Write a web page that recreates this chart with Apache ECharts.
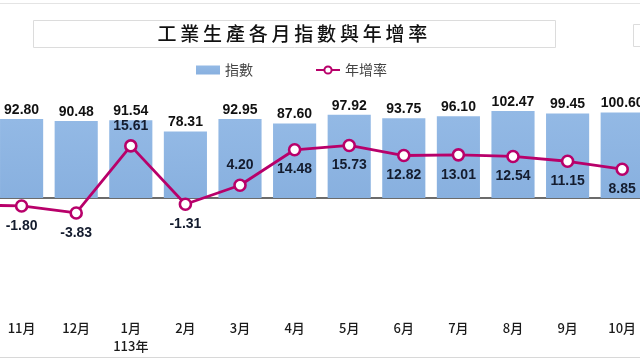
<!DOCTYPE html>
<html><head><meta charset="utf-8">
<script src="https://cdn.jsdelivr.net/npm/echarts@6/dist/echarts.min.js"></script>
<style>html,body{margin:0;padding:0;background:#fff}#c{width:640px;height:360px}</style>
</head><body><div id="c"></div>
<script>
var categories = ['10月','11月','12月','1月\n113年','2月','3月','4月','5月','6月','7月','8月','9月','10月'];
var indexValues = [null, 92.80, 90.48, 91.54, 78.31, 92.95, 87.60, 97.92, 93.75, 96.10, 102.47, 99.45, 100.60];
var growthValues = [-1.5, -1.80, -3.83, 15.61, -1.31, 4.20, 14.48, 15.73, 12.82, 13.01, 12.54, 11.15, 8.85];
var titleText = '工業生產各月指數與年增率';
var seriesNames = ['指數', '年增率'];

var growthLabelPos = ['bottom','bottom','bottom','top','bottom','top','bottom','bottom','bottom','bottom','bottom','bottom','bottom'];

var chart = echarts.init(document.getElementById('c'), null, {renderer: 'canvas'});
var graphics = [
  {type:'line', shape:{x1:0,y1:3.5,x2:640,y2:3.5}, style:{stroke:'#e4e4e4', lineWidth:1}},
  {type:'line', shape:{x1:0,y1:357.5,x2:640,y2:357.5}, style:{stroke:'#d8d8d8', lineWidth:1}},
  {type:'rect', shape:{x:33.5,y:20.5,width:522,height:27}, style:{fill:'#fff', stroke:'#dcdcdc', lineWidth:1}},
  {type:'rect', shape:{x:633.5,y:24.5,width:20,height:22}, style:{fill:'#fff', stroke:'#dcdcdc', lineWidth:1}}
];
var chars = titleText.split('');
for (var i = 0; i < chars.length; i++) {
  graphics.push({type:'text', x: 157 + i * 22.8 + 10, y: 34,
    style:{text: chars[i], fill:'#111', font:'500 19px "Noto Sans CJK TC", sans-serif', align:'center', verticalAlign:'middle'}});
}

chart.setOption({
  animation: false,
  backgroundColor: '#fff',
  graphic: graphics,
  legend: {
    left: 191, top: 58, itemGap: 62, itemWidth: 24, itemHeight: 9,
    textStyle: {fontSize: 14, color: '#444', fontFamily: '"Noto Sans CJK TC", sans-serif'},
    data: [
      {name: seriesNames[0], icon: 'rect'},
      {name: seriesNames[1]}
    ]
  },
  grid: {left: -60.3, top: 79, width: 709.8, height: 238, containLabel: false, outerBoundsMode: 'none'},
  xAxis: [
    {type: 'category', data: categories, axisLine: {show: false}, axisTick: {show: false},
     axisLabel: {fontSize: 13, color: '#1a1a1a', fontWeight: 500, margin: 2, lineHeight: 18,
       fontFamily: '"Noto Sans CJK TC", sans-serif'}},
    {type: 'category', data: categories, axisLine: {show: true, onZero: true, onZeroAxisIndex: 0,
       lineStyle: {color: '#3a3a3a', width: 1.5}}, axisTick: {show: false}, axisLabel: {show: false}}
  ],
  yAxis: [
    {type: 'value', min: -140, max: 140, show: false, splitLine: {show: false}},
    {type: 'value', min: -34, max: 35, show: false, splitLine: {show: false}}
  ],
  series: [
    {name: seriesNames[0], type: 'bar', xAxisIndex: 0, yAxisIndex: 0, data: indexValues,
     barCategoryGap: '21%',
     itemStyle: {color: new echarts.graphic.LinearGradient(0,0,0,1,[{offset:0,color:'#93b9e5'},{offset:1,color:'#88b0df'}])},
     label: {show: true, position: 'top', distance: 2, fontSize: 14, fontWeight: 'bold', color: '#111',
       fontFamily: '"Liberation Sans Narrow", "Arial Narrow", sans-serif',
       formatter: function(p){ return p.value == null ? '' : p.value.toFixed(2); }}},
    {name: seriesNames[1], type: 'line', xAxisIndex: 0, yAxisIndex: 1,
     data: growthValues.map(function(v, i){ return {value: v, label: {position: growthLabelPos[i]}}; }),
     symbol: 'circle', symbolSize: 11, z: 5,
     lineStyle: {color: '#b8006a', width: 2.8},
     itemStyle: {color: '#fff', borderColor: '#b8006a', borderWidth: 2.6},
     label: {show: true, distance: 6, fontSize: 14, fontWeight: 'bold', color: '#141c2e',
       fontFamily: '"Liberation Sans Narrow", "Arial Narrow", sans-serif',
       formatter: function(p){ return p.dataIndex === 0 ? '' : p.value.toFixed(2); }}}
  ]
});
</script></body></html>
